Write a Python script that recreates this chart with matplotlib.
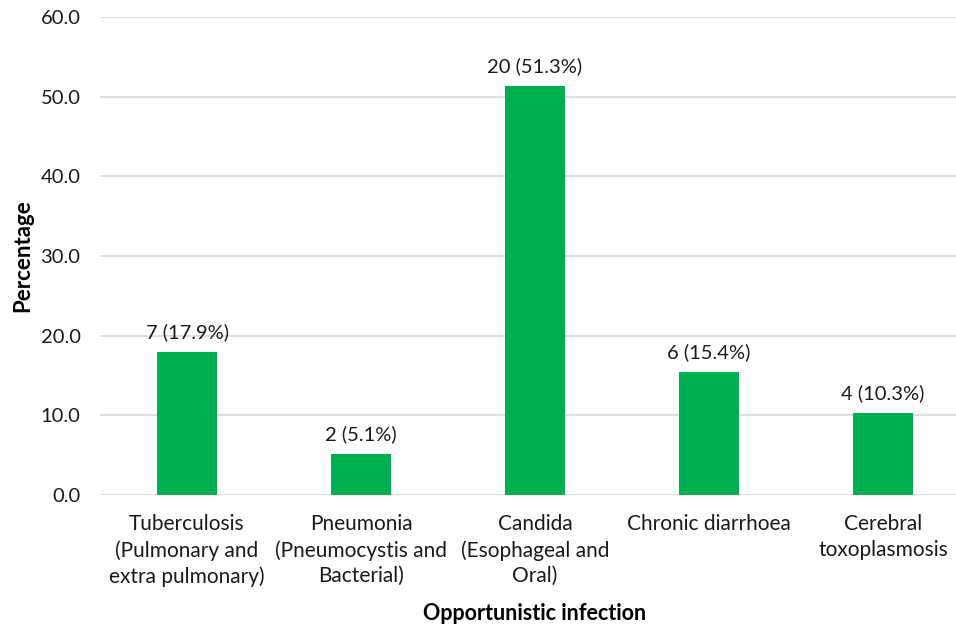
import matplotlib

matplotlib.use("Agg")
import matplotlib.pyplot as plt

plt.rcParams["font.family"] = ["Lato", "DejaVu Sans"]

categories = [
    "Tuberculosis\n(Pulmonary and\nextra pulmonary)",
    "Pneumonia\n(Pneumocystis and\nBacterial)",
    "Candida\n(Esophageal and\nOral)",
    "Chronic diarrhoea",
    "Cerebral\ntoxoplasmosis",
]
counts = [7, 2, 20, 6, 4]
percentages = [17.9, 5.1, 51.3, 15.4, 10.3]

fig = plt.figure(figsize=(9.56, 6.25), dpi=100)
ax = fig.add_axes([100 / 956, 130 / 625, 870 / 956, 478 / 625])

xs = range(len(categories))
ax.bar(xs, percentages, width=0.345, color="#00B050", zorder=3)
for x, n, p in zip(xs, counts, percentages):
    ax.text(x, p + 1.4, f"{n} ({p:.1f}%)", ha="center", va="bottom",
            fontsize=14.5, color="#1a1a1a")

ax.set_xlim(-0.5, len(categories) - 0.5)
ax.set_ylim(0, 60)
ax.set_yticks([0, 10, 20, 30, 40, 50, 60])
ax.set_yticklabels([f"{v:.1f}" for v in [0, 10, 20, 30, 40, 50, 60]])
ax.set_xticks(list(xs))
ax.set_xticklabels(categories, fontsize=15, color="#1a1a1a", linespacing=1.33)
ax.tick_params(axis="y", labelsize=14.5, colors="#1a1a1a", length=0, pad=14)
ax.tick_params(axis="x", length=0, pad=14)
ax.grid(axis="y", color="#d9d9d9", lw=1.2, zorder=0)
for s in ax.spines.values():
    s.set_visible(False)

ax.set_ylabel("Percentage", fontsize=16, fontweight="bold")
ax.yaxis.set_label_coords(-0.077, 0.5)
ax.set_xlabel("Opportunistic infection", fontsize=15.5, fontweight="bold", labelpad=12)

fig.savefig("out.png", dpi=100)
